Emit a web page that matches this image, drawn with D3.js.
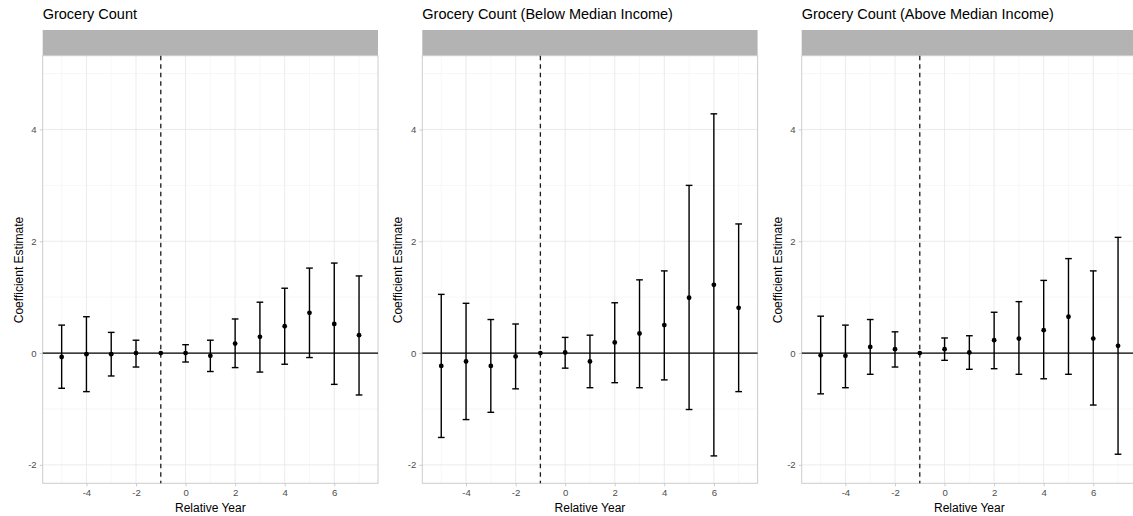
<!DOCTYPE html>
<html>
<head>
<meta charset="utf-8">
<script src="https://cdn.jsdelivr.net/npm/d3@7"></script>
<style>
  body { margin: 0; background: #fff; }
  svg text { font-family: "Liberation Sans", Arial, sans-serif; }
  .tick text { fill: #4d4d4d; font-size: 9.6px; }
  .axis-title { font-size: 12px; fill: #000; }
  .title { font-size: 14.5px; fill: #000; }
</style>
</head>
<body>
<svg id="chart" width="1133" height="516"></svg>
<script>
// relative years shared by all panels
const years = [-5, -4, -3, -2, -1, 0, 1, 2, 3, 4, 5, 6, 7];

const titles = [
  "Grocery Count",
  "Grocery Count (Below Median Income)",
  "Grocery Count (Above Median Income)"
];

// panel 1 : all
const est_all   = [-0.07, -0.02, -0.02, 0.00, 0, 0.00, -0.05, 0.17, 0.29, 0.48, 0.72, 0.52, 0.32];
const lower_all = [-0.63, -0.69, -0.41, -0.25, 0, -0.16, -0.33, -0.26, -0.34, -0.20, -0.08, -0.56, -0.75];
const upper_all = [0.50, 0.65, 0.37, 0.23, 0, 0.15, 0.23, 0.61, 0.91, 1.16, 1.52, 1.61, 1.38];

// panel 2 : below median income
const est_below   = [-0.23, -0.15, -0.23, -0.06, 0, 0.01, -0.15, 0.19, 0.35, 0.50, 0.99, 1.22, 0.81];
const lower_below = [-1.51, -1.19, -1.06, -0.64, 0, -0.27, -0.62, -0.53, -0.62, -0.48, -1.01, -1.84, -0.69];
const upper_below = [1.05, 0.89, 0.60, 0.52, 0, 0.28, 0.32, 0.90, 1.31, 1.47, 3.00, 4.28, 2.31];

// panel 3 : above median income
const est_above   = [-0.04, -0.05, 0.11, 0.07, 0, 0.07, 0.01, 0.23, 0.26, 0.41, 0.65, 0.26, 0.13];
const lower_above = [-0.73, -0.62, -0.38, -0.25, 0, -0.13, -0.29, -0.28, -0.38, -0.46, -0.38, -0.93, -1.81];
const upper_above = [0.66, 0.50, 0.60, 0.38, 0, 0.27, 0.31, 0.73, 0.92, 1.30, 1.69, 1.47, 2.07];

const xTicks = [-4, -2, 0, 2, 4, 6];
const yTicks = [-2, 0, 2, 4];
const eventYear = -1;

const panels = [
  {title: titles[0], est: est_all,   lo: lower_all,   hi: upper_all},
  {title: titles[1], est: est_below, lo: lower_below, hi: upper_below},
  {title: titles[2], est: est_above, lo: lower_above, hi: upper_above}
];

const svg = d3.select("#chart");

const panelLeft = [42.7, 422.3, 801.7];
const panelW = 335.3;
const plotTop = 55.7, plotBottom = 483.3;
const stripTop = 30;
const capW = 0.27;   // errorbar cap width in data units

panels.forEach((p, k) => {
  const x0 = panelLeft[k];
  const xScale = d3.scaleLinear().domain([-5.765, 7.765]).range([x0, x0 + panelW]);
  const yScale = d3.scaleLinear().domain([-2.33, 5.32]).range([plotBottom, plotTop]);

  const g = svg.append("g");

  // title
  g.append("text").attr("class", "title")
    .attr("x", x0).attr("y", 19)
    .text(p.title);

  // strip
  g.append("rect")
    .attr("x", x0).attr("y", stripTop)
    .attr("width", panelW).attr("height", plotTop - stripTop)
    .attr("fill", "#b3b3b3");

  // minor grid
  const xMinor = d3.range(-5, 8, 2);
  const yMinor = [-1, 1, 3, 5];
  g.selectAll(".xminor").data(xMinor).join("line")
    .attr("x1", d => xScale(d)).attr("x2", d => xScale(d))
    .attr("y1", plotTop).attr("y2", plotBottom)
    .attr("stroke", "#f2f2f2").attr("stroke-width", 0.6);
  g.selectAll(".yminor").data(yMinor).join("line")
    .attr("x1", x0).attr("x2", x0 + panelW)
    .attr("y1", d => yScale(d)).attr("y2", d => yScale(d))
    .attr("stroke", "#f2f2f2").attr("stroke-width", 0.6);

  // major grid
  g.selectAll(".xmajor").data(xTicks).join("line")
    .attr("x1", d => xScale(d)).attr("x2", d => xScale(d))
    .attr("y1", plotTop).attr("y2", plotBottom)
    .attr("stroke", "#e6e6e6").attr("stroke-width", 0.8);
  g.selectAll(".ymajor").data(yTicks).join("line")
    .attr("x1", x0).attr("x2", x0 + panelW)
    .attr("y1", d => yScale(d)).attr("y2", d => yScale(d))
    .attr("stroke", "#e6e6e6").attr("stroke-width", 0.8);

  // panel border
  g.append("rect")
    .attr("x", x0).attr("y", plotTop)
    .attr("width", panelW).attr("height", plotBottom - plotTop)
    .attr("fill", "none").attr("stroke", "#cccccc").attr("stroke-width", 1);

  // zero line
  g.append("line")
    .attr("x1", x0).attr("x2", x0 + panelW)
    .attr("y1", yScale(0)).attr("y2", yScale(0))
    .attr("stroke", "#000").attr("stroke-width", 1.3);

  // event line
  g.append("line")
    .attr("x1", xScale(eventYear)).attr("x2", xScale(eventYear))
    .attr("y1", plotTop).attr("y2", plotBottom)
    .attr("stroke", "#1a1a1a").attr("stroke-width", 1.3)
    .attr("stroke-dasharray", "4.5,4");

  const rows = years.map((yr, i) => ({yr, est: p.est[i], lo: p.lo[i], hi: p.hi[i]}));

  // error bars
  const eb = g.selectAll(".eb").data(rows.filter(d => d.hi !== d.lo)).join("g")
    .attr("stroke", "#000").attr("stroke-width", 1.4);
  eb.append("line")
    .attr("x1", d => xScale(d.yr)).attr("x2", d => xScale(d.yr))
    .attr("y1", d => yScale(d.lo)).attr("y2", d => yScale(d.hi));
  eb.append("line")
    .attr("x1", d => xScale(d.yr - capW / 2)).attr("x2", d => xScale(d.yr + capW / 2))
    .attr("y1", d => yScale(d.hi)).attr("y2", d => yScale(d.hi));
  eb.append("line")
    .attr("x1", d => xScale(d.yr - capW / 2)).attr("x2", d => xScale(d.yr + capW / 2))
    .attr("y1", d => yScale(d.lo)).attr("y2", d => yScale(d.lo));

  // points
  g.selectAll(".pt").data(rows).join("circle")
    .attr("cx", d => xScale(d.yr)).attr("cy", d => yScale(d.est))
    .attr("r", 2.4).attr("fill", "#000");

  // axes
  const xAxis = d3.axisBottom(xScale).tickValues(xTicks).tickSize(3).tickPadding(3)
    .tickFormat(d => d < 0 ? "-" + Math.abs(d) : d);
  const gx = g.append("g").attr("transform", `translate(0,${plotBottom})`).call(xAxis);
  gx.select(".domain").remove();
  gx.selectAll(".tick line").attr("stroke", "#cccccc");

  const yAxis = d3.axisLeft(yScale).tickValues(yTicks).tickSize(3).tickPadding(3)
    .tickFormat(d => d < 0 ? "-" + Math.abs(d) : d);
  const gy = g.append("g").attr("transform", `translate(${x0},0)`).call(yAxis);
  gy.select(".domain").remove();
  gy.selectAll(".tick line").attr("stroke", "#cccccc");

  // axis titles
  g.append("text").attr("class", "axis-title")
    .attr("x", x0 + panelW / 2).attr("y", 512)
    .attr("text-anchor", "middle")
    .text("Relative Year");

  g.append("text").attr("class", "axis-title")
    .attr("transform", `translate(${x0 - 20},270) rotate(-90)`)
    .attr("text-anchor", "middle")
    .text("Coefficient Estimate");
});
</script>
</body>
</html>
